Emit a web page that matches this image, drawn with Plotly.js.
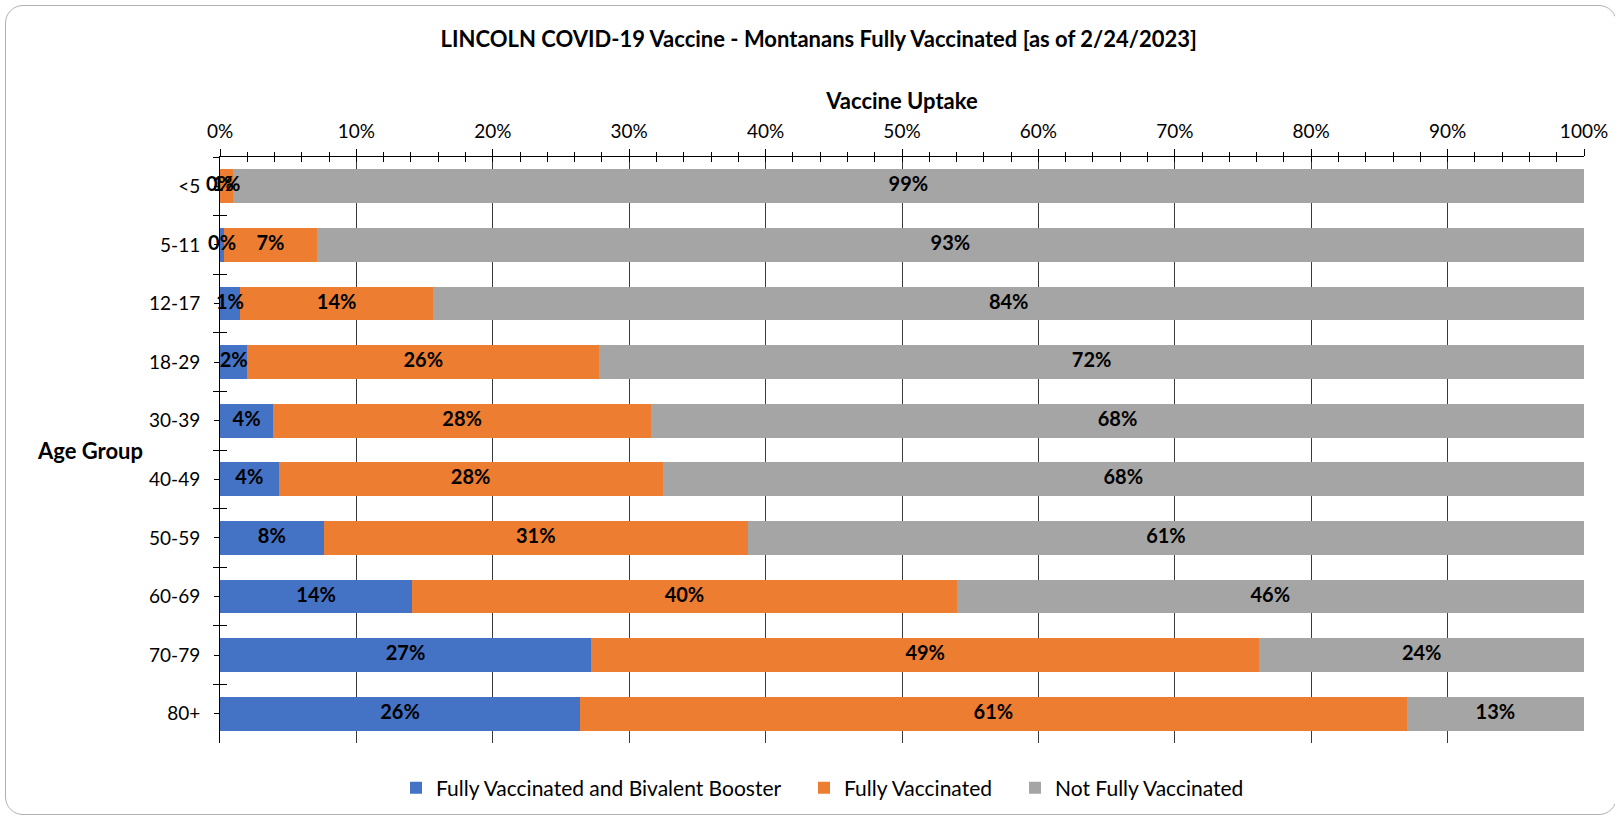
<!DOCTYPE html>
<html>
<head>
<meta charset="utf-8">
<script src="https://cdn.plot.ly/plotly-3.0.1.min.js"></script>
<style>
  html, body { margin: 0; padding: 0; background: #fff; }
  #chart { position: absolute; left: 0; top: 0; width: 1615px; height: 817px; }
  #frame { position: absolute; left: 5px; top: 5px; width: 1610px; height: 808px;
           border: 1px solid #b0b0b0; border-radius: 18px; pointer-events: none; }
</style>
</head>
<body>
<div id="chart"></div>
<div id="frame"></div>
<script>
// ---- data ----
const ageGroups = ["<5", "5-11", "12-17", "18-29", "30-39", "40-49", "50-59", "60-69", "70-79", "80+"];
const boosterPct = [0.0, 0.3, 1.45, 2.0, 3.9, 4.3, 7.6, 14.1, 27.2, 26.4];
const fullyPct = [0.93, 6.8, 14.2, 25.8, 27.7, 28.15, 31.1, 39.9, 49.0, 60.6];
const notFullyPct = [99.07, 92.9, 84.35, 72.2, 68.4, 67.55, 61.3, 46.0, 23.8, 13.0];
const seriesNames = ["Fully Vaccinated and Bivalent Booster", "Fully Vaccinated", "Not Fully Vaccinated"];
const seriesColors = ["#4472C4", "#ED7D31", "#A5A5A5"];
const xTickVals = [0, 10, 20, 30, 40, 50, 60, 70, 80, 90, 100];
const xTickText = xTickVals.map(v => v + "%");

const FONT = "Lato, 'Open Sans', sans-serif";
const series = [boosterPct, fullyPct, notFullyPct];
const legendIds = ["legend", "legend2", "legend3"];

const traces = [];
series.forEach((vals, i) => {
  traces.push({
    type: "bar", orientation: "h", name: seriesNames[i],
    x: vals, y: ageGroups, legend: legendIds[i],
    marker: { color: seriesColors[i], line: { width: 0 } },
    hoverinfo: "x+y+name"
  });
});

// label positions: centre of each stacked segment (computed from data)
const labelAxes = [["x2", "y2"], ["x2", "y3"], ["x2", "y3"]];
series.forEach((vals, i) => {
  const centres = vals.map((v, k) => {
    let base = 0;
    for (let j = 0; j < i; j++) base += series[j][k];
    return base + v / 2;
  });
  traces.push({
    type: "scatter", mode: "text", showlegend: false, hoverinfo: "skip",
    x: centres, y: ageGroups,
    text: vals.map(v => Math.round(v) + "%"),
    textposition: "middle center",
    textfont: { family: FONT, size: 20, color: "#000", weight: "bold" },
    xaxis: labelAxes[i][0], yaxis: labelAxes[i][1], cliponaxis: false
  });
});

const catAxisBase = {
  type: "category", categoryorder: "array", categoryarray: ageGroups,
  autorange: "reversed", fixedrange: true
};

function legendAt(px) {
  return {
    orientation: "h", xref: "container", yref: "container",
    x: px / 1615, xanchor: "left", y: 1 - 788 / 817, yanchor: "middle",
    font: { family: FONT, size: 21, color: "#000" }, bgcolor: "rgba(0,0,0,0)"
  };
}

const layout = {
  width: 1615, height: 817,
  margin: { l: 220, r: 31, t: 157, b: 74, pad: 0 },
  paper_bgcolor: "rgba(0,0,0,0)", plot_bgcolor: "#fff",
  barmode: "stack", bargap: 0.42,
  font: { family: FONT, color: "#000" },
  title: {
    text: "<b>LINCOLN COVID-19 Vaccine - Montanans Fully Vaccinated [as of 2/24/2023]</b>",
    font: { family: FONT, size: 22, color: "#000" },
    x: 0.507, xref: "container", xanchor: "center",
    y: 1 - 39 / 817, yref: "container", yanchor: "middle"
  },
  xaxis: {
    side: "top", range: [0, 100], tickvals: xTickVals, ticktext: xTickText,
    ticks: "outside", ticklen: 7, tickcolor: "#000", tickwidth: 1,
    minor: { dtick: 2, ticks: "outside", ticklen: 4, tickcolor: "#000", showgrid: false },
    showgrid: true, gridcolor: "#3a3a3a", gridwidth: 1,
    showline: true, linecolor: "#000", linewidth: 1, zeroline: false,
    tickfont: { family: FONT, size: 19, color: "#000" }, ticklabelstandoff: 3,
    title: { text: "<b>Vaccine Uptake</b>", font: { family: FONT, size: 22, color: "#000" }, standoff: 3 },
    fixedrange: true
  },
  xaxis2: {
    overlaying: "x", side: "top", range: [0, 100], tickvals: xTickVals,
    ticks: "inside", ticklen: 5, tickcolor: "#000",
    minor: { dtick: 2, ticks: "inside", ticklen: 5, tickcolor: "#000", showgrid: false },
    showticklabels: false, showgrid: false, zeroline: false, showline: false, fixedrange: true
  },
  yaxis: Object.assign({}, catAxisBase, {
    ticks: "outside", ticklen: 5, tickcolor: "#000",
    showline: true, linecolor: "#000", linewidth: 1, showgrid: false, zeroline: false,
    tickfont: { family: FONT, size: 19, color: "#000" }, ticklabelstandoff: 10
  }),
  yaxis2: Object.assign({}, catAxisBase, {
    overlaying: "y", side: "left", tickson: "boundaries",
    ticks: "outside", ticklen: 6, tickcolor: "#000",
    showticklabels: false, showgrid: false, showline: false, zeroline: false
  }),
  yaxis3: Object.assign({}, catAxisBase, {
    overlaying: "y", side: "left", tickson: "boundaries",
    ticks: "inside", ticklen: 7, tickcolor: "#000",
    showticklabels: false, showgrid: false, showline: false, zeroline: false
  }),
  legend: legendAt(396),
  legend2: legendAt(804),
  legend3: legendAt(1015),
  annotations: [{
    text: "<b>Age Group</b>", xref: "paper", yref: "paper",
    x: -0.095, y: 0.5, xanchor: "center", yanchor: "middle", showarrow: false,
    font: { family: FONT, size: 22, color: "#000" }
  }]
};

Plotly.newPlot("chart", traces, layout, { displayModeBar: false, staticPlot: true });
</script>
</body>
</html>
